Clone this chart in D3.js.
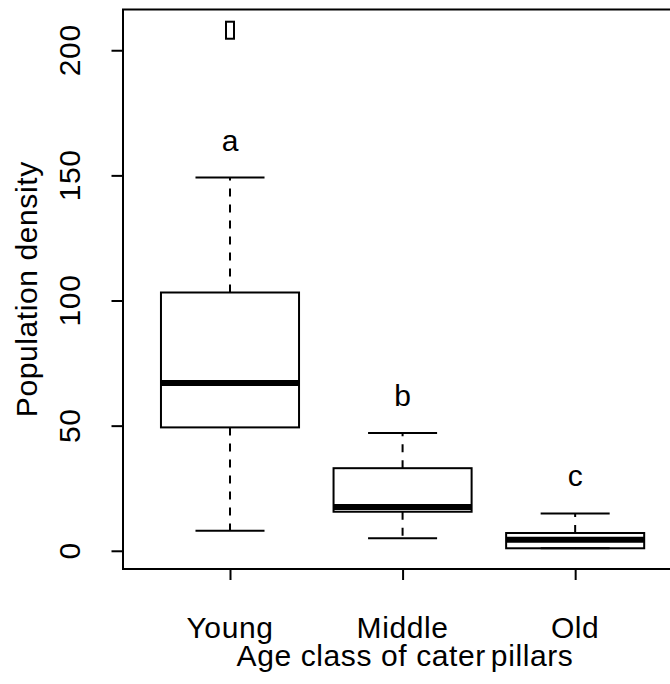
<!DOCTYPE html>
<html><head><meta charset="utf-8">
<script src="https://cdn.jsdelivr.net/npm/d3@7"></script>
<style>body{margin:0;background:#fff}svg{display:block}</style>
</head><body>
<script>
// ---- data ----
const categories = ["Young", "Middle", "Old"];
const whiskerLow = [8, 5, 1];
const q1 = [49.3, 15.6, 1.0];
const median = [67, 17.5, 4.4];
const q3 = [103.2, 33.0, 7.1];
const whiskerHigh = [149.2, 47.1, 14.9];
const outliers = [[208], [], []];
const letters = ["a", "b", "c"];
const letterValues = [164, 62, 30];
const yTicks = [0, 50, 100, 150, 200];
const xLabelParts = ["Age class of cater", "pillars"];
const yLabel = "Population density";

// ---- layout ----
const W = 670, H = 684;
const FONT = "'Liberation Sans', Arial, Helvetica, sans-serif";
const FS = 30;
const LS = "0.6px";
const pLeft = 123, pTop = 9.5, pBottom = 569;
const n = categories.length;
const xd = [0.5 - 0.04 * n, n + 0.5 + 0.04 * n];
const unit = (230 - pLeft) / (1 - xd[0]);
const pRight = pLeft + unit * (xd[1] - xd[0]);

const allVals = [...whiskerLow, ...whiskerHigh, ...outliers.flat()];
const [mn, mx] = d3.extent(allVals);
const pad = (mx - mn) * 0.04;

const x = d3.scaleLinear().domain(xd).range([pLeft, pRight]);
const y = d3.scaleLinear().domain([mn - pad, mx + pad]).range([pBottom, pTop]);

const svg = d3.select("body").append("svg").attr("width", W).attr("height", H)
  .style("font-family", FONT);

const g = svg.append("g");
const data = categories.map((c, i) => ({
  c, i, pos: i + 1, lo: whiskerLow[i], q1: q1[i], med: median[i], q3: q3[i], hi: whiskerHigh[i],
  out: outliers[i], letter: letters[i], lv: letterValues[i]
}));

// whiskers (dashed)
const bw = 0.4, sw = 0.2;
g.selectAll(".wu").data(data).join("line")
  .attr("x1", d => x(d.pos)).attr("x2", d => x(d.pos))
  .attr("y1", d => y(d.q3)).attr("y2", d => y(d.hi))
  .attr("stroke", "#000").attr("stroke-width", 2).attr("stroke-dasharray", "8,8");
g.selectAll(".wl").data(data).join("line")
  .attr("x1", d => x(d.pos)).attr("x2", d => x(d.pos))
  .attr("y1", d => y(d.q1)).attr("y2", d => y(d.lo))
  .attr("stroke", "#000").attr("stroke-width", 2).attr("stroke-dasharray", "8,8");
// staples
["hi", "lo"].forEach(k => {
  g.selectAll(".st" + k).data(data).join("line")
    .attr("x1", d => x(d.pos - sw)).attr("x2", d => x(d.pos + sw))
    .attr("y1", d => y(d[k])).attr("y2", d => y(d[k]))
    .attr("stroke", "#000").attr("stroke-width", 2);
});
// boxes
g.selectAll(".box").data(data).join("rect")
  .attr("x", d => x(d.pos - bw)).attr("width", d => x(d.pos + bw) - x(d.pos - bw))
  .attr("y", d => y(d.q3)).attr("height", d => y(d.q1) - y(d.q3))
  .attr("fill", "none").attr("stroke", "#000").attr("stroke-width", 2);
// medians
g.selectAll(".med").data(data).join("line")
  .attr("x1", d => x(d.pos - bw)).attr("x2", d => x(d.pos + bw))
  .attr("y1", d => y(d.med)).attr("y2", d => y(d.med))
  .attr("stroke", "#000").attr("stroke-width", 6);
// outliers
data.forEach(d => {
  g.selectAll(null).data(d.out).join("rect")
    .attr("x", x(d.pos) - 4).attr("width", 8)
    .attr("y", v => y(v) - 8.5).attr("height", 17)
    .attr("fill", "none").attr("stroke", "#000").attr("stroke-width", 2);
});
// letters
g.selectAll(".let").data(data).join("text")
  .attr("x", d => x(d.pos)).attr("y", d => y(d.lv) + 0.34 * FS)
  .attr("text-anchor", "middle").attr("font-size", FS).text(d => d.letter);

// frame
svg.append("rect").attr("x", pLeft).attr("y", pTop).attr("width", pRight - pLeft).attr("height", pBottom - pTop)
  .attr("fill", "none").attr("stroke", "#000").attr("stroke-width", 2);

// y axis
const ya = svg.append("g").attr("transform", `translate(${pLeft},0)`)
  .call(d3.axisLeft(y).tickValues(yTicks).tickSize(11.5).tickFormat(""));
ya.select(".domain").remove();
ya.selectAll(".tick line").attr("stroke", "#000").attr("stroke-width", 2);
svg.selectAll(".ylab").data(yTicks).join("text")
  .attr("transform", v => `translate(80,${y(v)}) rotate(-90)`)
  .attr("text-anchor", "middle").attr("font-size", FS).style("letter-spacing", LS).text(v => v);

// x axis
const xa = svg.append("g").attr("transform", `translate(0,${pBottom})`)
  .call(d3.axisBottom(x).tickValues(data.map(d => d.pos)).tickSize(11).tickFormat(""));
xa.select(".domain").remove();
xa.selectAll(".tick line").attr("stroke", "#000").attr("stroke-width", 2);
svg.selectAll(".xlab").data(data).join("text")
  .attr("x", d => x(d.pos)).attr("y", 638)
  .attr("text-anchor", "middle").attr("font-size", FS).style("letter-spacing", LS).text(d => d.c);

// axis titles
const xt = svg.append("text").attr("x", 405).attr("y", 666)
  .attr("text-anchor", "middle").attr("font-size", FS).style("letter-spacing", LS);
xt.append("tspan").text(xLabelParts[0]);
xt.append("tspan").attr("dx", 5).text(xLabelParts[1]);
svg.append("text").attr("transform", `translate(37,${(pTop + pBottom) / 2}) rotate(-90)`)
  .attr("text-anchor", "middle").attr("font-size", FS).style("letter-spacing", LS).text(yLabel);
</script>
</body></html>
